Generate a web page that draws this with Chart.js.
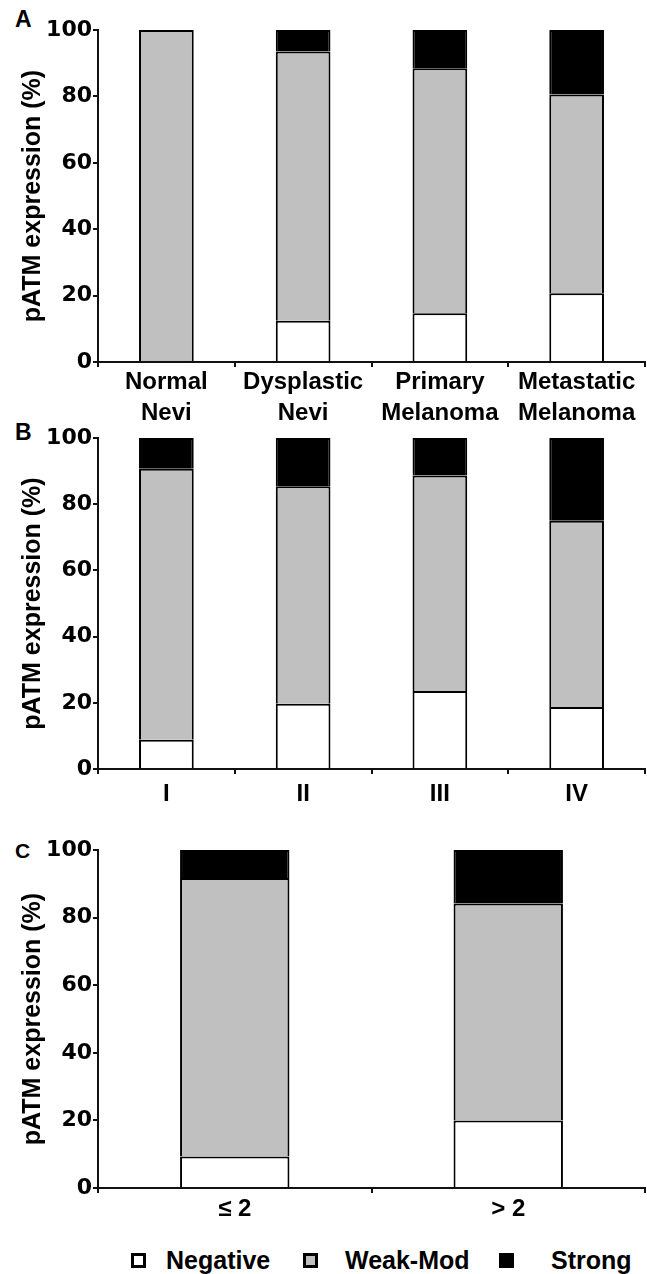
<!DOCTYPE html>
<html>
<head>
<meta charset="utf-8">
<script src="https://cdn.jsdelivr.net/npm/chart.js@4.4.1/dist/chart.umd.min.js"></script>
<style>
  body { margin: 0; background: #fff; width: 647px; height: 1274px; position: relative; overflow: hidden;
         font-family: 'Liberation Sans', Arial, sans-serif; color: #000; }
  canvas { position: absolute; left: 0; }
  .panel-letter { position: absolute; left: 15px; font-weight: bold; font-size: 23px; line-height: 23px; }
  .legend-box { position: absolute; width: 15px; height: 15px; box-sizing: border-box; border: 3px solid #000; }
  .legend-text { position: absolute; font-weight: bold; font-size: 25px; line-height: 30px; white-space: nowrap; }
</style>
</head>
<body>
<div class="panel-letter" style="top:8px">A</div>
<div class="panel-letter" style="top:421px">B</div>
<div class="panel-letter" style="top:839px;font-size:21px">C</div>
<canvas id="chart-lesion" width="647" height="420" style="top:0"></canvas>
<canvas id="chart-stage" width="647" height="400" style="top:420px"></canvas>
<canvas id="chart-thickness" width="647" height="420" style="top:820px"></canvas>
<div id="legend"></div>
<script>
// series shared by all three panels
const seriesLabels = ['Negative', 'Weak-Mod', 'Strong'];
const seriesColors = ['#ffffff', '#c0c0c0', '#000000'];
const yTicks = [0, 20, 40, 60, 80, 100];

// A: lesion type
const lesionLabels = [['Normal', 'Nevi'], ['Dysplastic', 'Nevi'], ['Primary', 'Melanoma'], ['Metastatic', 'Melanoma']];
const lesionNegative = [0, 12.4, 14.7, 20.7];
const lesionWeakMod = [100, 81.1, 73.8, 59.9];
const lesionStrong = [0, 6.5, 11.5, 19.4];

// B: stage
const stageLabels = ['I', 'II', 'III', 'IV'];
const stageNegative = [8.8, 19.7, 23.6, 18.7];
const stageWeakMod = [81.9, 65.7, 65.1, 56.3];
const stageStrong = [9.3, 14.6, 11.3, 25.0];

// C: thickness
const thicknessLabels = ['≤ 2', '> 2'];
const thicknessNegative = [9.3, 20.0];
const thicknessWeakMod = [82.4, 64.2];
const thicknessStrong = [8.3, 15.8];

const ink = '#111';
const axisWidth = 2;

function makePanel(id, labels, values, cfg) {
  return new Chart(document.getElementById(id), {
    type: 'bar',
    data: {
      labels: labels,
      datasets: values.map((data, i) => ({
        label: seriesLabels[i],
        data: data,
        backgroundColor: seriesColors[i],
        borderColor: '#000',
        borderWidth: 2,
        inflateAmount: 0,
        categoryPercentage: 1,
        barPercentage: cfg.barPct,
      })),
    },
    options: {
      responsive: false,
      animation: false,
      events: [],
      layout: { padding: { top: cfg.padTop, right: 2, left: 0, bottom: 0 } },
      plugins: { legend: { display: false }, tooltip: { enabled: false } },
      scales: {
        x: {
          stacked: true,
          z: 1,
          border: { color: ink, width: axisWidth },
          grid: { offset: true, drawOnChartArea: false, drawTicks: true, tickLength: 5, color: ink, lineWidth: axisWidth },
          ticks: {
            color: '#000',
            padding: cfg.labelPad,
            maxRotation: 0,
            autoSkip: false,
            font: { family: 'Liberation Sans', weight: 'bold', size: 24, lineHeight: cfg.lineHeight },
          },
          afterFit: (scale) => { scale.height = cfg.xHeight; },
        },
        y: {
          stacked: true,
          min: 0,
          max: 100,
          border: { color: ink, width: axisWidth },
          grid: { drawOnChartArea: false, drawTicks: true, tickLength: 5, color: ink, lineWidth: axisWidth },
          ticks: {
            color: '#000',
            padding: 1,
            font: { family: 'DejaVu Sans', weight: 'bold', size: 22 },
          },
          afterBuildTicks: (scale) => { scale.ticks = yTicks.map((v) => ({ value: v })); },
          title: {
            display: true,
            text: 'pATM expression (%)',
            color: '#000',
            padding: { top: 18, bottom: 0 },
            font: { family: 'Liberation Sans', weight: 'bold', size: 25, lineHeight: 1.2 },
          },
          afterFit: (scale) => { scale.width = 98; },
        },
      },
    },
  });
}

makePanel('chart-lesion', lesionLabels, [lesionNegative, lesionWeakMod, lesionStrong],
  { padTop: 30, xHeight: 58, labelPad: 0, lineHeight: 1.3, barPct: 0.4 });
makePanel('chart-stage', stageLabels, [stageNegative, stageWeakMod, stageStrong],
  { padTop: 18, xHeight: 51, labelPad: 6, lineHeight: 1.2, barPct: 0.4 });
makePanel('chart-thickness', thicknessLabels, [thicknessNegative, thicknessWeakMod, thicknessStrong],
  { padTop: 30, xHeight: 52, labelPad: 2, lineHeight: 1.2, barPct: 0.4 });

// legend under panel C
const legendBoxX = [131, 303, 499];
const legendTextX = [166, 345, 551];
const legend = document.getElementById('legend');
seriesLabels.forEach((name, i) => {
  const box = document.createElement('div');
  box.className = 'legend-box';
  box.style.left = legendBoxX[i] + 'px';
  box.style.top = '1253px';
  box.style.background = seriesColors[i];
  legend.appendChild(box);
  const txt = document.createElement('div');
  txt.className = 'legend-text';
  txt.style.left = legendTextX[i] + 'px';
  txt.style.top = '1245px';
  txt.textContent = name;
  legend.appendChild(txt);
});
</script>
</body>
</html>
